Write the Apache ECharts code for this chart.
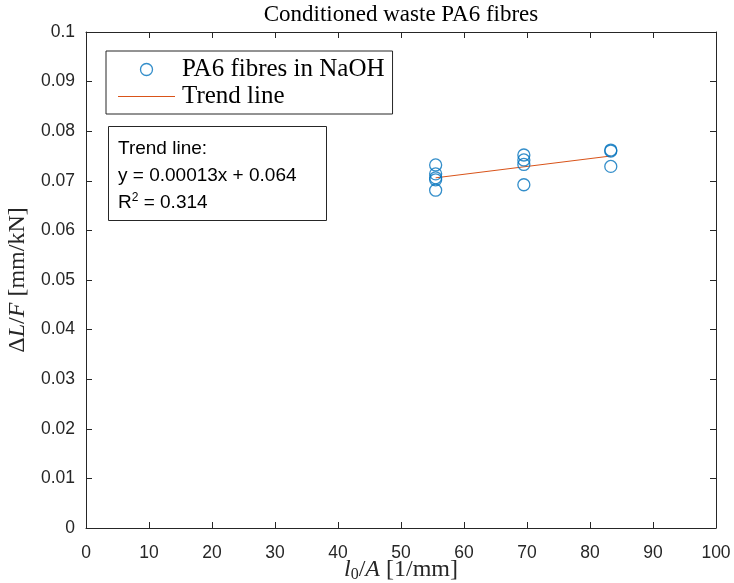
<!DOCTYPE html>
<html>
<head>
<meta charset="utf-8">
<script src="https://cdn.jsdelivr.net/npm/echarts@6/dist/echarts.min.js"></script>
<style>
  html, body { margin: 0; padding: 0; background: #fff; }
  #chart { width: 734px; height: 583px; }
</style>
</head>
<body>
<div id="chart"></div>
<script>
// Specimen geometry l0/A [1/mm] and measured compliance dL/F [mm/kN]
const lengthOverArea = [55.5, 55.5, 55.5, 55.5, 55.5, 69.5, 69.5, 69.5, 69.5, 83.3, 83.3, 83.3];
const compliance = [0.0732, 0.0714, 0.0706, 0.0702, 0.0681, 0.0752, 0.0742, 0.0733, 0.0692, 0.0762, 0.0760, 0.0729];

// Linear fit endpoints
const trendX = [55.5, 83.3];
const trendY = [0.0706, 0.0750];

const xTicks = { min: 0, max: 100, interval: 10 };
const yTicks = { min: 0, max: 0.1, interval: 0.01 };

const axisColor = '#262626';
const serif = '"Liberation Serif", "Times New Roman", serif';
const sans = '"Liberation Sans", Arial, sans-serif';

const points = lengthOverArea.map((x, i) => [x, compliance[i]]);
const trend = trendX.map((x, i) => [x, trendY[i]]);

const chart = echarts.init(document.getElementById('chart'), null, { renderer: 'canvas' });

const gridBox = { left: 86, right: 18, top: 32, bottom: 55 };

const baseAxis = {
  axisLine: { show: true, onZero: false, lineStyle: { color: axisColor, width: 1 } },
  axisTick: { show: true, inside: true, length: 6, lineStyle: { color: axisColor, width: 1 } },
  splitLine: { show: false },
};

chart.setOption({
  animation: false,
  backgroundColor: '#fff',
  grid: Object.assign({ containLabel: false, outerBoundsMode: 'none' }, gridBox),
  title: [
    {
      text: 'Trend line:\ny = 0.00013x + 0.064\n{r|R}{sup|2}{r| = 0.314}',
      left: 108,
      top: 126,
      padding: [9, 30, 5, 10],
      borderColor: axisColor,
      borderWidth: 1,
      backgroundColor: '#fff',
      textStyle: {
        fontFamily: sans, fontWeight: 'normal', fontSize: 19, color: '#000', lineHeight: 27,
        rich: {
          r: { fontFamily: sans, fontSize: 19, color: '#000', lineHeight: 27 },
          sup: { fontFamily: sans, fontSize: 12, color: '#000', lineHeight: 27, padding: [0, 0, 10, 0] },
        },
      },
    },
  ],
  graphic: [
    {
      type: 'text',
      x: 401,
      y: 15,
      style: {
        text: 'Conditioned waste PA6 fibres',
        fill: '#000',
        font: '23px "Liberation Serif", "Times New Roman", serif',
        textAlign: 'center',
        textVerticalAlign: 'middle',
      },
    },
  ],
  legend: {
    orient: 'vertical',
    left: 106,
    top: 51,
    padding: [5, 8, 4, 12],
    itemGap: 0,
    itemWidth: 57,
    itemHeight: 12,
    symbolKeepAspect: true,
    borderColor: axisColor,
    borderWidth: 1,
    backgroundColor: '#fff',
    textStyle: { fontFamily: serif, fontSize: 25, color: '#000', lineHeight: 27, padding: [0, 0, 0, 2] },
    data: [
      {
        name: 'PA6 fibres in NaOH',
        icon: 'circle',
        itemStyle: { color: '#fff', borderColor: '#0072BD', borderWidth: 1.3 },
      },
      {
        name: 'Trend line',
        icon: 'path://M0,0H57V1H0Z',
        itemStyle: { color: '#D95319', borderWidth: 0 },
      },
    ],
  },
  xAxis: [
    Object.assign({}, baseAxis, {
      type: 'value', position: 'bottom',
      min: xTicks.min, max: xTicks.max, interval: xTicks.interval,
      axisLabel: { show: true, margin: 16, fontFamily: sans, fontSize: 17.5, color: axisColor },
      name: '{it|l}{sub|0}{n|/}{it|A}{n| [1/mm]}',
      nameLocation: 'middle',
      nameGap: 42,
      nameMoveOverlap: false,
      nameTextStyle: {
        fontFamily: serif, fontSize: 24, color: axisColor, verticalAlign: 'middle',
        rich: {
          it: { fontFamily: serif, fontStyle: 'italic', fontSize: 24, color: axisColor },
          n: { fontFamily: serif, fontSize: 24, color: axisColor },
          sub: { fontFamily: serif, fontSize: 16, color: axisColor, padding: [10, 0, 0, 0] },
        },
      },
    }),
    Object.assign({}, baseAxis, {
      type: 'value', position: 'top',
      min: xTicks.min, max: xTicks.max, interval: xTicks.interval,
      axisLabel: { show: false },
    }),
  ],
  yAxis: [
    Object.assign({}, baseAxis, {
      type: 'value', position: 'left',
      min: yTicks.min, max: yTicks.max, interval: yTicks.interval,
      axisLabel: {
        show: true, margin: 11, fontFamily: sans, fontSize: 17.5, color: axisColor,
        formatter: v => String(+v.toFixed(3)),
      },
      name: '{n|Δ}{it|L}{n|/}{it|F}{n| [mm/kN]}',
      nameLocation: 'middle',
      nameRotate: 90,
      nameGap: 56,
      nameTextStyle: {
        fontFamily: serif, fontSize: 24, color: axisColor,
        rich: {
          it: { fontFamily: serif, fontStyle: 'italic', fontSize: 24, color: axisColor },
          n: { fontFamily: serif, fontSize: 24, color: axisColor },
        },
      },
    }),
    Object.assign({}, baseAxis, {
      type: 'value', position: 'right',
      min: yTicks.min, max: yTicks.max, interval: yTicks.interval,
      axisLabel: { show: false },
    }),
  ],
  series: [
    {
      name: 'PA6 fibres in NaOH',
      type: 'scatter',
      xAxisIndex: 0, yAxisIndex: 0,
      data: points,
      symbol: 'circle',
      symbolSize: 12,
      itemStyle: { color: 'rgba(0,0,0,0)', borderColor: '#0072BD', borderWidth: 1.3 },
      z: 3,
    },
    {
      name: 'Trend line',
      type: 'line',
      xAxisIndex: 0, yAxisIndex: 0,
      data: trend,
      symbol: 'none',
      lineStyle: { color: '#D95319', width: 1 },
      itemStyle: { color: '#D95319' },
      z: 2,
    },
  ],
});
</script>
</body>
</html>
